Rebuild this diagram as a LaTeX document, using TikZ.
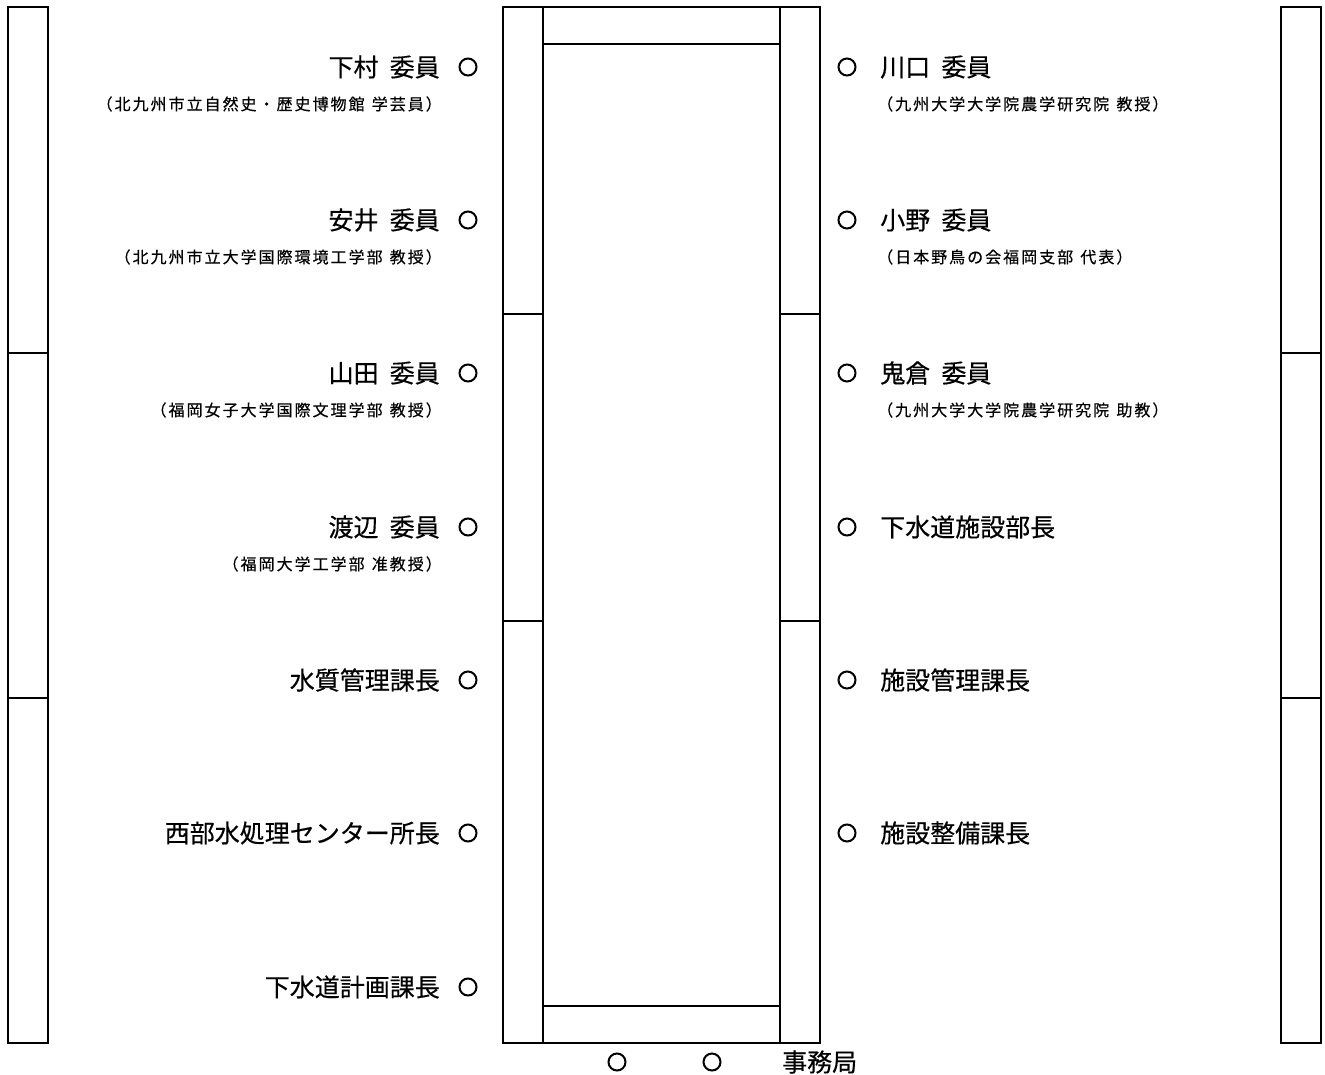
\documentclass[tikz,border=0pt]{standalone}
\usepackage{fontspec}
\setmainfont{Noto Sans CJK JP}[FakeBold=0.4]
\newcommand\mynamefnt{\fontsize{25}{30}\selectfont\setlength{\spaceskip}{0.45em}}
\newcommand\mysubfnt{\fontsize{16}{19}\selectfont\addfontfeature{LetterSpace=12.5}\setlength{\spaceskip}{0.45em}}
\begin{document}
\begin{tikzpicture}[x=1pt,y=-1pt,
  frame/.style={line width=2.6pt,line join=miter},
  namefont/.style={inner sep=0pt,font=\mynamefnt},
  namel/.style={namefont,anchor=east},
  namer/.style={namefont,anchor=west},
  subfont/.style={inner sep=0pt,font=\mysubfnt},
  subl/.style={subfont,anchor=east},
  subr/.style={subfont,anchor=west},
  circmark/.style={circle,draw,line width=2pt,minimum size=17pt,inner sep=0pt}]
\useasboundingbox (0,0) rectangle (1325,1074);
\fill[white] (0,0) rectangle (1325,1074);
% outer side boxes
\draw[frame] (8,7) rectangle (48,1043);
\draw[frame] (8,353) -- (48,353) (8,698) -- (48,698);
\draw[frame] (1281,7) rectangle (1321,1043);
\draw[frame] (1281,353) -- (1321,353) (1281,698) -- (1321,698);
% center table
\draw[frame] (503,7) rectangle (820,1043);
\draw[frame] (543,7) -- (543,1043) (780,7) -- (780,1043);
\draw[frame] (543,44) -- (780,44) (543,1006) -- (780,1006);
\draw[frame] (503,314) -- (543,314) (503,621) -- (543,621);
\draw[frame] (780,314) -- (820,314) (780,621) -- (820,621);
% left names
\node[namel] (l1) at (440,67) {下村 委員};
\node[subl] (l1s) at (442,104) {（北九州市立自然史・歴史博物館 学芸員）};
\node[namel] (l2) at (440,220) {安井 委員};
\node[subl] (l2s) at (442,257) {（北九州市立大学国際環境工学部 教授）};
\node[namel] (l3) at (440,373) {山田 委員};
\node[subl] (l3s) at (442,410) {（福岡女子大学国際文理学部 教授）};
\node[namel] (l4) at (440,527) {渡辺 委員};
\node[subl] (l4s) at (442,564) {（福岡大学工学部 准教授）};
\node[namel] (l5) at (440,680) {水質管理課長};
\node[namel] (l6) at (440,833) {西部水処理センター所長};
\node[namel] (l7) at (440,987) {下水道計画課長};
\foreach \y [count=\i] in {67,220,373,527,680,833,987}
  \node[circmark] (lm\i) at (468,\y) {};
% right names
\node[namer] (r1) at (880,67) {川口 委員};
\node[subr] (r1s) at (877,104) {（九州大学大学院農学研究院 教授）};
\node[namer] (r2) at (880,220) {小野 委員};
\node[subr] (r2s) at (877,257) {（日本野鳥の会福岡支部 代表）};
\node[namer] (r3) at (880,373) {鬼倉 委員};
\node[subr] (r3s) at (877,410) {（九州大学大学院農学研究院 助教）};
\node[namer] (r4) at (880,527) {下水道施設部長};
\node[namer] (r5) at (880,680) {施設管理課長};
\node[namer] (r6) at (880,833) {施設整備課長};
\foreach \y [count=\i] in {67,220,373,527,680,833}
  \node[circmark] (rm\i) at (847,\y) {};
% bottom
\node[circmark] (b1) at (617,1062) {};
\node[circmark] (b2) at (712,1062) {};
\node[namer] (jim) at (782,1062) {事務局};
\end{tikzpicture}
\end{document}
